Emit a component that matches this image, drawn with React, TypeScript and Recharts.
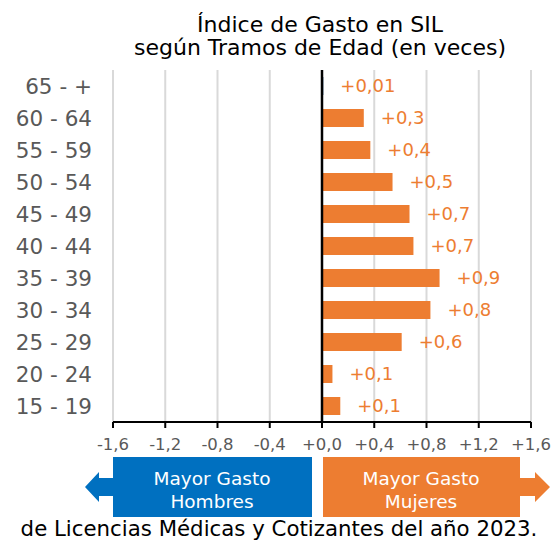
import React from "react";
import {
  BarChart,
  Bar,
  XAxis,
  YAxis,
  CartesianGrid,
  ReferenceLine,
  LabelList,
  Cell,
} from "recharts";

const ageGroups = [
  "65 - +",
  "60 - 64",
  "55 - 59",
  "50 - 54",
  "45 - 49",
  "40 - 44",
  "35 - 39",
  "30 - 34",
  "25 - 29",
  "20 - 24",
  "15 - 19",
];
const spendIndex = [0.01, 0.32, 0.37, 0.54, 0.67, 0.7, 0.9, 0.83, 0.61, 0.08, 0.14];
const valueLabels = ["+0,01", "+0,3", "+0,4", "+0,5", "+0,7", "+0,7", "+0,9", "+0,8", "+0,6", "+0,1", "+0,1"];
const xTicks = [-1.6, -1.2, -0.8, -0.4, 0, 0.4, 0.8, 1.2, 1.6];

const ORANGE = "#ED7D31";
const BLUE = "#0070C0";
const FONT = "'DejaVu Sans', Verdana, sans-serif";

const chartData = ageGroups.map((age, i) => ({
  age,
  value: spendIndex[i],
  label: valueLabels[i],
}));

const fmtTick = (v: number) =>
  (v < 0 ? "-" : "+") + Math.abs(v).toFixed(1).replace(".", ",");

const App: React.FC = () => {
  return (
    <div
      style={{
        position: "absolute",
        left: 0,
        top: 0,
        width: 558,
        height: 541,
        overflow: "hidden",
        background: "#fff",
        fontFamily: FONT,
      }}
    >
      <BarChart
        width={558}
        height={541}
        data={chartData}
        layout="vertical"
        margin={{ top: 70, right: 27, bottom: 89, left: 0 }}
        barSize={18}
      >
        <CartesianGrid horizontal={false} stroke="#d9d9d9" strokeWidth={2} />
        <XAxis
          type="number"
          domain={[-1.6, 1.6]}
          ticks={xTicks}
          tickFormatter={fmtTick}
          axisLine={{ stroke: "#000", strokeWidth: 2 }}
          tickLine={{ stroke: "#000", strokeWidth: 2 }}
          tickSize={6}
          tickMargin={10}
          height={30}
          tick={{ fill: "#595959", fontSize: 16.5, fontFamily: FONT }}
          interval={0}
        />
        <YAxis
          type="category"
          dataKey="age"
          width={113}
          axisLine={false}
          tickLine={false}
          tickSize={0}
          tickMargin={21}
          tick={{ fill: "#595959", fontSize: 21.5, fontFamily: FONT }}
          interval={0}
        />
        <Bar dataKey="value" fill={ORANGE} isAnimationActive={false}>
          {chartData.map((d, i) => (
            <Cell key={d.age} fill={i === 0 ? "#1F4E79" : ORANGE} />
          ))}
          <LabelList
            dataKey="label"
            position="right"
            offset={17}
            fill={ORANGE}
            fontSize={18}
            fontFamily={FONT}
          />
        </Bar>
        <ReferenceLine x={0} stroke="#000" strokeWidth={2.5} ifOverflow="extendDomain" />
      </BarChart>
      <svg
        width={558}
        height={541}
        style={{ position: "absolute", left: 0, top: 0, pointerEvents: "none" }}
        fontFamily={FONT}
      >
        <text x={320} y={32} textAnchor="middle" fontSize={22} fill="#000">
          Índice de Gasto en SIL
        </text>
        <text x={320} y={55} textAnchor="middle" fontSize={22} fill="#000">
          según Tramos de Edad (en veces)
        </text>
        <polygon
          points="113,457 312,457 312,517 113,517 113,496 99,496 99,502 85,487 99,472 99,478 113,478"
          fill={BLUE}
        />
        <polygon
          points="323,457 520,457 520,478 535,478 535,472 550,487 535,502 535,496 520,496 520,517 323,517"
          fill={ORANGE}
        />
        <text x={212} y={485} textAnchor="middle" fontSize={18.5} fill="#fff">
          Mayor Gasto
        </text>
        <text x={212} y={508} textAnchor="middle" fontSize={18.5} fill="#fff">
          Hombres
        </text>
        <text x={421} y={485} textAnchor="middle" fontSize={18.5} fill="#fff">
          Mayor Gasto
        </text>
        <text x={421} y={508} textAnchor="middle" fontSize={18.5} fill="#fff">
          Mujeres
        </text>
        <text x={279} y={536} textAnchor="middle" fontSize={21.3} fill="#000">
          de Licencias Médicas y Cotizantes del año 2023.
        </text>
      </svg>
    </div>
  );
};

export default App;
